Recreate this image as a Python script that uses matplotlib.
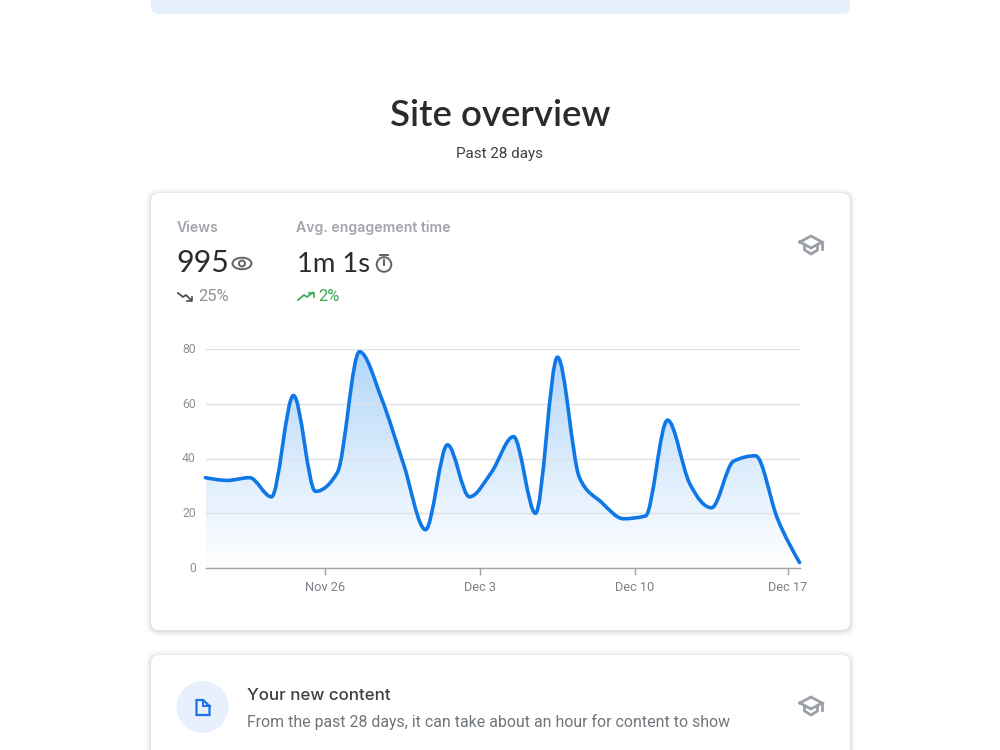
import numpy as np
import matplotlib
matplotlib.use("Agg")
import matplotlib.pyplot as plt
from matplotlib.patches import FancyBboxPatch, Circle, Polygon, PathPatch, Ellipse
from matplotlib.path import Path
from matplotlib.transforms import ScaledTranslation

plt.rcParams['font.family'] = ['Roboto', 'DejaVu Sans']

# Daily views for the last 28 days
views = [33, 32, 33, 26, 63, 28, 35, 79, 62, 38, 14, 45, 26, 35,
         48, 20, 77, 33, 24, 18, 19, 54, 31, 22, 39, 41, 18, 2]
y_ticks = [0, 20, 40, 60, 80]
x_tick_labels = ['Nov 26', 'Dec 3', 'Dec 10', 'Dec 17']
x_tick_days = [5.44, 12.47, 19.5, 26.47]

TEXT_DARK = '#2b2b2f'
TEXT_GREY = '#a2a4ab'
LABEL_GREY = '#8f9196'
BLUE = '#0f78e6'
ICON_GREY = '#9aa0a6'
WIDE_FONT = ['Inter', 'DejaVu Sans']
HEAD_FONT = ['Lato', 'DejaVu Sans']

fig = plt.figure(figsize=(10, 7.5), dpi=100, facecolor='white')
page = fig.add_axes([0, 0, 1, 1])
page.set_xlim(0, 1000)
page.set_ylim(750, 0)
page.axis('off')


def rounded(x0, y0, x1, y1, r, **kw):
    p = FancyBboxPatch((x0 + r, y0 + r), x1 - x0 - 2 * r, y1 - y0 - 2 * r,
                       boxstyle=f'round,pad={r},rounding_size={r}', **kw)
    page.add_patch(p)
    return p


def card(x0, y0, x1, y1):
    # Soft drop shadow built from stacked translucent outlines
    for grow, alpha in [(6, .008), (5, .012), (4, .016), (3, .02), (2, .028), (1, .035)]:
        rounded(x0 - grow, y0 - grow + 1, x1 + grow, y1 + grow + 1, 8 + grow,
                fc='black', ec='none', alpha=alpha, zorder=1)
    rounded(x0, y0, x1, y1, 8, fc='white', ec='none', zorder=2)


def hat(cx, cy):
    page.plot([cx - 11, cx, cx + 11, cx, cx - 11],
              [cy - 3, cy - 9, cy - 3, cy + 3, cy - 3],
              color=ICON_GREY, lw=2, solid_joinstyle='miter', zorder=5)
    page.plot([cx - 6.5, cx - 6.5, cx, cx + 6.5, cx + 6.5],
              [cy, cy + 5, cy + 9, cy + 5, cy],
              color=ICON_GREY, lw=2, solid_joinstyle='miter', zorder=5)
    page.plot([cx + 10.5, cx + 10.5], [cy - 3, cy + 4], color=ICON_GREY, lw=2, zorder=5)


# Banner at the top of the page
rounded(151, -20, 850, 14, 7, fc='#e6f1fd', ec='none', zorder=2)

page.text(500, 126.5, 'Site overview', ha='center', va='baseline',
          fontsize=26.4, color=TEXT_DARK, family=HEAD_FONT, fontweight='semibold', zorder=5)
page.text(500, 154, 'Past 28 days', ha='center', va='center',
          fontsize=10.9, color='#3c4043', zorder=5)

card(151, 193, 850, 630)
card(151, 655, 850, 790)

# Headline metrics
page.text(176.5, 232, 'Views', va='baseline', fontsize=10.1, color=TEXT_GREY,
          family=WIDE_FONT, fontweight='semibold', zorder=5)
page.text(296.5, 232, 'Avg. engagement time', va='baseline', fontsize=10.1, color=TEXT_GREY,
          family=WIDE_FONT, fontweight='semibold', zorder=5)
page.text(176, 272, '995', va='baseline', fontsize=21.8, color=TEXT_DARK, family=HEAD_FONT, zorder=5)
page.text(297, 272, '1m 1s', va='baseline', fontsize=19.7, color=TEXT_DARK, family=HEAD_FONT, zorder=5)
page.text(198, 301, '25%', va='baseline', fontsize=11.8, color=LABEL_GREY, zorder=5)
page.text(318.5, 301, '2%', va='baseline', fontsize=11.8, color='#34a853', zorder=5)

# Eye icon
page.add_patch(Ellipse((242, 263.5), 19, 11.5, fc='none', ec='#5f6368', lw=1.4, zorder=5))
page.add_patch(Circle((242, 263.5), 3, fc='none', ec='#5f6368', lw=1.4, zorder=5))
# Stopwatch icon
page.add_patch(Circle((384, 264.5), 7.3, fc='none', ec='#5f6368', lw=1.4, zorder=5))
page.plot([380, 388], [254.5, 254.5], color='#5f6368', lw=1.4, zorder=5)
page.plot([384, 384], [260, 265], color='#5f6368', lw=1.4, zorder=5)
# Trend arrows
page.plot([178, 183, 186, 191], [293, 297, 295, 300], color='#4a4c50', lw=1.3, zorder=5)
page.plot([187, 192, 192], [300.5, 300.5, 296.5], color='#4a4c50', lw=1.2, zorder=5)
page.plot([298, 304, 307, 313], [300, 295, 297, 292.5], color='#34a853', lw=1.2, zorder=5)
page.plot([308.5, 313.5, 313.5], [292.5, 292.5, 296.5], color='#34a853', lw=1.2, zorder=5)

hat(811, 245)
hat(811, 706)

# Lower card: new content
page.add_patch(Circle((202.5, 707), 26, fc='#e8f0fe', ec='none', zorder=5))
page.add_patch(Polygon([(196.5, 700), (203, 700), (209.5, 706), (209.5, 715), (196.5, 715)],
                       closed=True, fc='none', ec='#1a73e8', lw=1.6, zorder=6))
page.plot([203, 203, 209.5], [700, 706, 706], color='#1a73e8', lw=1.4, zorder=6)
page.text(247, 700, 'Your new content', va='baseline', fontsize=12.2, color='#3c4043',
          family=WIDE_FONT, fontweight='medium', zorder=5)
page.text(247, 727, 'From the past 28 days, it can take about an hour for content to show',
          va='baseline', fontsize=11.45, color='#70757a', zorder=5)

# Chart area
L, R, T, B = 205.5, 799.5, 349, 568
ax = fig.add_axes([L / 1000, 1 - B / 750, (R - L) / 1000, (B - T) / 750])
ax.set_zorder(3)
ax.patch.set_alpha(0)
days = np.arange(len(views))
vals = np.asarray(views, float)
ax.set_xlim(0, len(views) - 1)
ax.set_ylim(0, 80)


def monotone_path(x, y):
    """Monotone cubic through the points, returned as Bezier path vertices."""
    h = np.diff(x)
    s = np.diff(y) / h
    m = np.zeros_like(y)
    for i in range(1, len(y) - 1):
        if s[i - 1] * s[i] > 0:
            p = (s[i - 1] * h[i] + s[i] * h[i - 1]) / (h[i - 1] + h[i])
            m[i] = np.sign(s[i]) * min(abs(s[i - 1]), abs(s[i]), abs(p) / 2) * 2
    m[0] = (3 * s[0] - m[1]) / 2
    m[-1] = (3 * s[-1] - m[-2]) / 2
    verts = [(x[0], y[0])]
    codes = [Path.MOVETO]
    for i in range(len(h)):
        verts += [(x[i] + h[i] / 3, y[i] + m[i] * h[i] / 3),
                  (x[i + 1] - h[i] / 3, y[i + 1] - m[i + 1] * h[i] / 3),
                  (x[i + 1], y[i + 1])]
        codes += [Path.CURVE4] * 3
    return verts, codes


verts, codes = monotone_path(days.astype(float), vals)

# Vertical gradient under the curve
grad = np.ones((256, 1, 4))
grad[:, 0, 0] = np.linspace(0.70, 1.0, 256)
grad[:, 0, 1] = np.linspace(0.84, 1.0, 256)
grad[:, 0, 2] = np.linspace(0.98, 1.0, 256)
img = ax.imshow(grad, extent=[0, len(views) - 1, 0, 80], origin='upper', aspect='auto',
                zorder=1, interpolation='bilinear')
area = Path(verts + [(days[-1], 0), (0, 0), (0, vals[0])],
            codes + [Path.LINETO, Path.LINETO, Path.CLOSEPOLY])
img.set_clip_path(PathPatch(area, transform=ax.transData))

ax.set_yticks(y_ticks)
ax.set_xticks(x_tick_days)
ax.set_xticklabels(x_tick_labels)
ax.grid(axis='y', color='#dfe1e5', lw=1, zorder=2)
ax.set_axisbelow(False)
ax.tick_params(axis='y', length=0, pad=7, labelsize=8.8, labelcolor=LABEL_GREY)
ax.tick_params(axis='x', length=5, width=1, color='#a0a2a6', pad=4.7,
               labelsize=9.2, labelcolor='#7d8086')
# Lift the value labels a touch above their gridlines
lift = ScaledTranslation(0, 1 / 100, fig.dpi_scale_trans)
for lab in ax.get_yticklabels():
    lab.set_transform(lab.get_transform() + lift)
for side in ('top', 'left', 'right'):
    ax.spines[side].set_visible(False)
ax.spines['bottom'].set_color('#a0a2a6')
ax.spines['bottom'].set_linewidth(1)
for g in ax.get_ygridlines():
    g.set_zorder(2)
ax.add_patch(PathPatch(Path(verts, codes), fc='none', ec=BLUE, lw=2.6, zorder=4,
                       clip_on=False, capstyle='round'))

fig.savefig('out.png', dpi=100)
